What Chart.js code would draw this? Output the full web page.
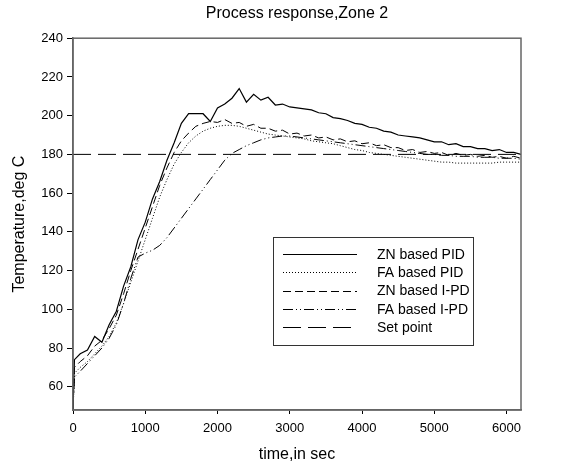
<!DOCTYPE html>
<html>
<head>
<meta charset="utf-8">
<script src="https://cdn.jsdelivr.net/npm/chart.js@4"></script>
<style>
  html, body { margin: 0; padding: 0; background: #fff; }
  #wrap { width: 561px; height: 469px; }
</style>
</head>
<body>
<div id="wrap"><canvas id="chart" width="561" height="469"></canvas></div>
<script>
// time axis (seconds)
const timeSec = [0, 20, 100, 200, 300, 400, 500, 600, 700, 800, 900, 1000,
  1100, 1200, 1300, 1400, 1500, 1600, 1700, 1800, 1900, 2000, 2100, 2200,
  2300, 2400, 2500, 2600, 2700, 2800, 2900, 3000, 3100, 3200, 3300, 3400,
  3500, 3600, 3700, 3800, 3900, 4000, 4100, 4200, 4300, 4400, 4500, 4600,
  4700, 4800, 4900, 5000, 5100, 5200, 5300, 5400, 5500, 5600, 5700, 5800,
  5900, 6000, 6100, 6200];

const znPid = [48, 74, 77, 79, 86, 83, 92, 99, 112, 122, 136, 145,
  157, 166, 177, 186, 196, 201, 201, 201, 197, 204, 206, 209,
  214, 207, 211, 208, 209.5, 205.5, 206, 204.5, 204, 203.5, 203, 201.5,
  201, 199, 198.5, 197.5, 196, 195.5, 194, 193.5, 192, 191.5, 190, 189.5,
  189, 188.5, 187.5, 186.5, 186.5, 185, 185.5, 184, 184, 183, 183, 182,
  182.5, 181, 181, 180];

const faPid = [48, 67, 70, 73, 77, 81, 86, 93, 103, 114, 125, 136,
  147, 158, 167, 175, 181, 186, 189.5, 192, 193.5, 194.5, 195, 195,
  194.5, 193.5, 192.5, 191.5, 190.5, 190, 189.5, 189, 188.5, 188, 187, 186.5,
  186, 185.5, 184.5, 183.5, 182.5, 182, 181, 180.5, 180, 179.5, 179, 178.5,
  178, 177.5, 177, 176.5, 176, 176, 175.5, 175.5, 175.5, 175.5, 175.5, 175.5,
  176, 176, 176, 176];

const znIpd = [48, 70, 73, 76, 81, 84, 90, 97, 108, 120, 131, 142,
  153, 164, 173, 181, 187, 191, 194.5, 196, 197, 196.5, 198, 196,
  196.5, 194.5, 195.5, 193.5, 193.5, 192, 192.5, 190.5, 191, 189.5, 190, 188.5,
  189, 187.5, 188, 186.5, 187, 185.5, 186, 184.5, 185, 183.5, 183.5, 182,
  182.5, 181, 181.5, 180.5, 181, 179.5, 180.5, 179.5, 180, 179, 179.5, 178.5,
  179, 178, 179, 178];

const faIpd = [48, 65, 68, 72, 76, 80, 85, 92, 103, 116, 127, 129,
  130.5, 133, 137, 142, 147, 152, 157, 162, 167, 172, 177, 180.5,
  182.5, 184.5, 186, 187.5, 188.5, 189, 189.5, 189.5, 189, 188.5, 188, 187.5,
  187, 186.5, 186, 185.5, 185, 184.5, 184, 183.5, 183, 182.5, 182, 181.5,
  181, 180.5, 180, 180, 179.5, 179.5, 179, 179, 179, 178.5, 178.5, 178.5,
  178, 178, 178, 177.5];

const setPointTime = [0, 6200];
const setPoint = [180, 180];

const xTicks = [0, 1000, 2000, 3000, 4000, 5000, 6000];
const yTicks = [60, 80, 100, 120, 140, 160, 180, 200, 220, 240];

const seriesNames = ["ZN based PID", "FA based PID", "ZN based I-PD", "FA based I-PD", "Set point"];

function toPoints(xs, ys) {
  return xs.map((x, i) => ({ x: x, y: ys[i] }));
}

const FONT = "'Liberation Sans', Arial, sans-serif";
const dashes = [[], [1, 2], [8, 4], [10, 3, 1, 3, 1, 3], [18, 7]];
const widths = [1.2, 1, 1, 1, 1];

const datasets = [
  toPoints(timeSec, znPid),
  toPoints(timeSec, faPid),
  toPoints(timeSec, znIpd),
  toPoints(timeSec, faIpd),
  toPoints(setPointTime, setPoint)
].map((pts, i) => ({
  label: seriesNames[i],
  data: pts,
  borderColor: "#000",
  borderWidth: widths[i],
  borderDash: dashes[i],
  pointRadius: 0,
  tension: 0,
  fill: false
}));

// frame on top/right plus the legend box inside the plot
const framePlugin = {
  id: "frame",
  afterDraw(chart) {
    const ctx = chart.ctx;
    const a = chart.chartArea;
    ctx.save();
    ctx.strokeStyle = "#666";
    ctx.lineWidth = 1.5;
    ctx.strokeRect(a.left, a.top, a.right - a.left, a.bottom - a.top);

    // legend
    const lx = 273, ly = 237, lw = 200, lh = 108;
    ctx.fillStyle = "#fff";
    ctx.fillRect(lx, ly, lw, lh);
    ctx.strokeStyle = "#333";
    ctx.lineWidth = 1;
    ctx.strokeRect(lx + 0.5, ly + 0.5, lw, lh);
    ctx.font = "14px " + FONT;
    ctx.textBaseline = "middle";
    ctx.fillStyle = "#000";
    chart.data.datasets.forEach((ds, i) => {
      const y = 254 + i * 18.3;
      ctx.beginPath();
      ctx.setLineDash(ds.borderDash);
      ctx.strokeStyle = "#000";
      ctx.lineWidth = 1;
      ctx.moveTo(283, Math.round(y) + 0.5);
      ctx.lineTo(357, Math.round(y) + 0.5);
      ctx.stroke();
      ctx.setLineDash([]);
      ctx.fillText(ds.label, 377, y + 1);
    });
    ctx.restore();
  }
};

new Chart(document.getElementById("chart"), {
  type: "line",
  data: { datasets: datasets },
  plugins: [framePlugin],
  options: {
    responsive: false,
    animation: false,
    devicePixelRatio: 1,
    layout: { padding: { left: 0, right: 40, top: 0, bottom: 0 } },
    plugins: {
      legend: { display: false },
      tooltip: { enabled: false },
      title: {
        display: true,
        text: "Process response,Zone 2",
        fullSize: false,
        color: "#000",
        font: { family: FONT, size: 16, weight: "normal" },
        padding: { top: 4, bottom: 15 }
      }
    },
    scales: {
      x: {
        type: "linear",
        min: 0,
        max: 6200,
        afterBuildTicks(scale) { scale.ticks = xTicks.map(v => ({ value: v })); },
        afterFit(scale) { scale.height = 59; },
        grid: { drawOnChartArea: false, tickLength: 4, color: "#000" },
        border: { display: true, color: "#666", width: 1.5 },
        ticks: {
          color: "#000",
          padding: 7,
          maxRotation: 0,
          callback: (v) => String(v),
          font: { family: FONT, size: 13 }
        },
        title: {
          display: true,
          text: "time,in sec",
          color: "#000",
          padding: { top: 0, bottom: 5 },
          font: { family: FONT, size: 16 }
        }
      },
      y: {
        type: "linear",
        min: 48,
        max: 240,
        afterBuildTicks(scale) { scale.ticks = yTicks.map(v => ({ value: v })); },
        afterFit(scale) { scale.width = 73; },
        grid: { drawOnChartArea: false, tickLength: 6, color: "#000" },
        border: { display: true, color: "#666", width: 1.5 },
        ticks: {
          color: "#000",
          padding: 4,
          callback: (v) => String(v),
          font: { family: FONT, size: 13 }
        },
        title: {
          display: true,
          text: "Temperature,deg C",
          color: "#000",
          padding: { top: 10, bottom: 0 },
          font: { family: FONT, size: 16 }
        }
      }
    }
  }
});
</script>
</body>
</html>
